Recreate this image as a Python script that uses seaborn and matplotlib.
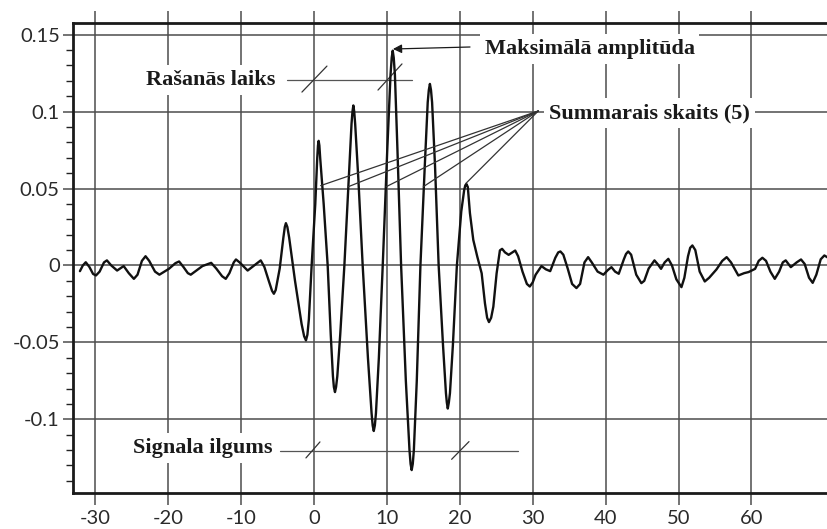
import matplotlib
matplotlib.use("Agg")
import matplotlib.pyplot as plt
import seaborn as sns
import numpy as np
import pandas as pd

# ---------------- data ----------------
time_x = [
    -32.1, -31.7, -31.3, -30.8, -30.3, -29.9, -29.4, -28.8, -28.4, -27.8,
    -27.0, -26.1, -25.4, -24.7, -24.2, -23.6, -23.1, -22.6, -21.8, -21.2,
    -19.9, -19.0, -18.5, -17.9, -17.3, -16.9, -15.3, -14.1, -13.4, -12.6,
    -12.1, -11.6, -11.0, -10.7, -10.2, -9.1, -8.2, -7.3, -6.8, -6.2,
    -5.75, -5.5, -5.25, -4.7, -4.2, -4.0, -3.85, -3.65, -3.4, -2.6,
    -1.7, -1.35, -1.1, -0.9, -0.7, -0.32, 0.18, 0.45, 0.55, 0.64,
    0.74, 0.85, 1.33, 1.88, 2.3, 2.6, 2.73, 2.88, 3.03, 3.2,
    3.6, 4.17, 4.75, 5.15, 5.28, 5.4, 5.52, 5.65, 6.1, 6.68,
    7.4, 7.9, 8.05, 8.2, 8.35, 8.5, 8.9, 9.43, 10.05, 10.5,
    10.66, 10.8, 10.94, 11.1, 11.45, 11.95, 12.6, 13.1, 13.25, 13.4,
    13.55, 13.7, 14.1, 14.6, 15.2, 15.6, 15.75, 15.9, 16.05, 16.2,
    16.6, 17.1, 17.7, 18.1, 18.22, 18.35, 18.5, 18.65, 19.05, 19.6,
    20.2, 20.6, 20.75, 20.9, 21.1, 21.39, 21.85, 22.4, 23.0, 23.45,
    23.75, 24.0, 24.3, 24.6, 25.05, 25.5, 25.8, 26.2, 26.7, 27.2,
    27.6, 28.0, 28.6, 29.2, 29.6, 30.0, 30.4, 31.2, 31.8, 32.4,
    33.1, 33.5, 33.8, 34.2, 34.8, 35.4, 36.0, 36.5, 37.1, 37.6,
    38.1, 38.9, 39.7, 40.3, 40.8, 41.3, 41.8, 42.5, 42.8, 43.1,
    43.5, 44.2, 44.9, 45.3, 45.9, 46.7, 47.2, 47.6, 48.1, 48.6,
    49.1, 49.7, 50.4, 50.8, 51.3, 51.6, 51.9, 52.3, 52.9, 53.6,
    54.2, 55.2, 56.0, 56.6, 57.2, 58.2, 59.0, 59.6, 60.5, 61.0,
    61.5, 62.0, 62.6, 63.2, 63.8, 64.3, 64.7, 65.4, 66.2, 66.8,
    67.3, 67.9, 68.4, 68.9, 69.5, 70.0, 70.7,
]
amplitude = [
    -0.0037, 0.0000, 0.0021, -0.0010, -0.0055, -0.0065, -0.0040, 0.0020, 0.0033, 0.0000,
    -0.0033, -0.0004, -0.0050, -0.0087, -0.0060, 0.0030, 0.0060, 0.0030, -0.0040, -0.0060,
    -0.0022, 0.0015, 0.0026, -0.0010, -0.0050, -0.0060, -0.0004, 0.0017, -0.0020, -0.0070,
    -0.0087, -0.0050, 0.0020, 0.0039, 0.0020, -0.0033, 0.0000, 0.0033, -0.0010, -0.0100,
    -0.0165, -0.0184, -0.0160, -0.0020, 0.0180, 0.0250, 0.0275, 0.0250, 0.0180, -0.0100,
    -0.0380, -0.0460, -0.0487, -0.0450, -0.0350, 0.0000, 0.0400, 0.0700, 0.0780, 0.0810,
    0.0780, 0.0700, 0.0400, 0.0000, -0.0450, -0.0720, -0.0790, -0.0823, -0.0790, -0.0720,
    -0.0450, 0.0000, 0.0550, 0.0920, 0.1000, 0.1040, 0.1000, 0.0920, 0.0550, 0.0000,
    -0.0600, -0.0960, -0.1040, -0.1076, -0.1040, -0.0960, -0.0600, 0.0000, 0.0750, 0.1240,
    0.1350, 0.1396, 0.1350, 0.1240, 0.0750, 0.0000, -0.0750, -0.1200, -0.1290, -0.1330,
    -0.1290, -0.1200, -0.0750, 0.0000, 0.0650, 0.1060, 0.1140, 0.1180, 0.1140, 0.1060,
    0.0650, 0.0000, -0.0520, -0.0830, -0.0890, -0.0930, -0.0890, -0.0830, -0.0520, 0.0000,
    0.0350, 0.0490, 0.0520, 0.0530, 0.0510, 0.0340, 0.0166, 0.0057, -0.0051, -0.0246,
    -0.0340, -0.0368, -0.0340, -0.0268, -0.0051, 0.0098, 0.0108, 0.0085, 0.0069, 0.0085,
    0.0097, 0.0060, -0.0040, -0.0120, -0.0137, -0.0110, -0.0060, -0.0004, -0.0025, -0.0037,
    0.0050, 0.0085, 0.0091, 0.0070, -0.0020, -0.0120, -0.0147, -0.0120, 0.0020, 0.0054,
    0.0020, -0.0040, -0.0060, -0.0030, -0.0011, -0.0040, -0.0054, 0.0040, 0.0075, 0.0091,
    0.0070, -0.0060, -0.0115, -0.0100, -0.0020, 0.0033, 0.0005, -0.0022, 0.0020, 0.0043,
    0.0000, -0.0090, -0.0141, -0.0080, 0.0060, 0.0115, 0.0130, 0.0100, -0.0040, -0.0104,
    -0.0080, -0.0026, 0.0030, 0.0054, 0.0020, -0.0065, -0.0050, -0.0043, -0.0022, 0.0030,
    0.0050, 0.0030, -0.0040, -0.0087, -0.0040, 0.0020, 0.0033, -0.0011, 0.0020, 0.0039,
    0.0010, -0.0080, -0.0113, -0.0060, 0.0040, 0.0065, 0.0045,
]

x_ticks = [-30, -20, -10, 0, 10, 20, 30, 40, 50, 60]
x_tick_labels = ["-30", "-20", "-10", "0", "10", "20", "30", "40", "50", "60"]
y_ticks = [-0.1, -0.05, 0.0, 0.05, 0.1, 0.15]
y_tick_labels = ["-0.1", "-0.05", "0", "0.05", "0.1", "0.15"]

label_max = "Maksimālā amplitūda"
label_onset = "Rašanās laiks"
label_count = "Summarais skaits (5)"
label_duration = "Signala ilgums"

# annotation geometry (data coordinates)
max_text_pos = (37.8, 0.1375)
max_arrow_from = (21.4, 0.1420)
max_arrow_to = (10.83, 0.1407)

onset_text_pos = (-14.1, 0.1173)
onset_line_x = (-3.7, 13.4)
onset_line_y = 0.1205
onset_slashes = [((-1.65, 0.1127), (1.78, 0.1296)), ((8.78, 0.1140), (12.07, 0.1310))]

count_text_pos = (46.0, 0.0958)
count_origin = (30.76, 0.1004)
count_targets_x = [0.92, 4.71, 9.9, 15.0, 20.85]
count_targets_y = [0.0519, 0.0512, 0.0512, 0.0512, 0.0534]

dur_text_pos = (-15.2, -0.1221)
dur_line_x = (-4.66, 27.98)
dur_line_y = -0.1204
dur_slashes = [((-1.10, -0.1251), (0.82, -0.1147)), ((18.88, -0.1260), (21.26, -0.1145))]

# ---------------- figure ----------------
sns.set_theme(style="white")
plt.rcParams["font.family"] = ["Lato", "DejaVu Sans"]

W, H = 828, 529
fig = plt.figure(figsize=(W / 100, H / 100), dpi=100)
ax = fig.add_axes([73 / W, 36 / H, (W - 73) / W, 470 / H])

grid_c = "#4d4d4d"
ax.set_xlim(-33.05, 70.5)
ax.set_ylim(-0.1479, 0.1576)

# grid lines
for xv in x_ticks:
    ax.axvline(xv, color=grid_c, lw=1.1, zorder=1)
for yv in y_ticks:
    ax.axhline(yv, color=grid_c, lw=1.1, zorder=1)

df = pd.DataFrame({"t": time_x, "a": amplitude})
sns.lineplot(data=df, x="t", y="a", ax=ax, color="#111111", linewidth=1.7,
             estimator=None, sort=False, zorder=5)
for ln in ax.get_lines():
    ln.set_solid_joinstyle("round")
    ln.set_solid_capstyle("round")

ax.set_xlabel("")
ax.set_ylabel("")

ax.set_xticks(x_ticks)
ax.set_xticklabels(x_tick_labels)
ax.set_yticks(y_ticks)
ax.set_yticklabels(y_tick_labels)
ax.set_yticks(np.arange(-14, 16, 1) / 100.0, minor=True)

ax.tick_params(axis="x", which="major", direction="out", length=8.5, width=1.1,
               color=grid_c, top=True, bottom=True, labelsize=14.5,
               labelcolor="#2a2a2a", pad=4)
ax.tick_params(axis="y", which="major", direction="out", length=7.5, width=1.1,
               color=grid_c, left=True, labelsize=14.5, labelcolor="#2a2a2a", pad=2)
ax.tick_params(axis="y", which="minor", direction="out", length=5, width=1.0,
               color="#222222", left=True)

for s in ["left", "top", "bottom"]:
    ax.spines[s].set_visible(True)
    ax.spines[s].set_linewidth(2.0)
    ax.spines[s].set_color("#1a1a1a")
ax.spines["right"].set_visible(False)

serif = ["Liberation Serif", "DejaVu Serif"]
box = dict(boxstyle="square,pad=0.22", fc="white", ec="none")
thin = "#333333"

# Maksimālā amplitūda
ax.text(*max_text_pos, label_max, ha="center", va="baseline", fontsize=16,
        fontweight="bold", family=serif, color="#1a1a1a", bbox=box, zorder=4)
ax.annotate("", xy=max_arrow_to, xytext=max_arrow_from,
            arrowprops=dict(arrowstyle="-|>", lw=0.9, color="#1a1a1a",
                            mutation_scale=13, shrinkA=0, shrinkB=0), zorder=6)

# Rašanās laiks
ax.text(*onset_text_pos, label_onset, ha="center", va="baseline", fontsize=16,
        fontweight="bold", family=serif, color="#1a1a1a", bbox=box, zorder=4)
ax.plot(onset_line_x, [onset_line_y, onset_line_y], color="#555555", lw=0.9, zorder=3)
for (p, q) in onset_slashes:
    ax.plot([p[0], q[0]], [p[1], q[1]], color=thin, lw=0.9, zorder=3)

# Summarais skaits (5)
ax.text(*count_text_pos, label_count, ha="center", va="baseline", fontsize=16,
        fontweight="bold", family=serif, color="#1a1a1a", bbox=box, zorder=4)
for tx, ty in zip(count_targets_x, count_targets_y):
    ax.plot([count_origin[0], tx], [count_origin[1], ty], color=thin, lw=0.9, zorder=6)

# Signala ilgums
ax.text(*dur_text_pos, label_duration, ha="center", va="baseline", fontsize=16,
        fontweight="bold", family=serif, color="#1a1a1a", bbox=box, zorder=4)
ax.plot(dur_line_x, [dur_line_y, dur_line_y], color="#555555", lw=0.9, zorder=3)
for (p, q) in dur_slashes:
    ax.plot([p[0], q[0]], [p[1], q[1]], color=thin, lw=0.9, zorder=3)

fig.savefig("out.png", dpi=100)
